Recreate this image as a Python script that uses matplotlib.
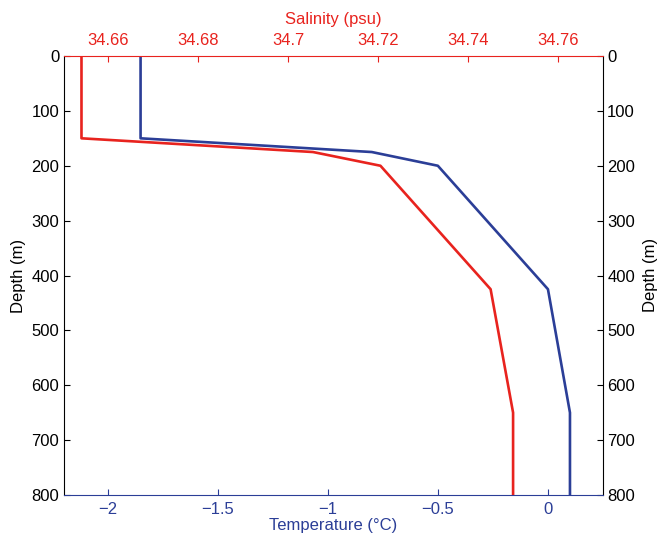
import matplotlib
matplotlib.use("Agg")
import matplotlib.pyplot as plt

plt.rcParams['font.family'] = ['Liberation Sans', 'DejaVu Sans']

depth = [0, 150, 175, 200, 425, 650, 800]
temperature = [-1.85, -1.85, -0.80, -0.50, 0.00, 0.10, 0.10]
salinity = [34.654, 34.654, 34.7055, 34.7205, 34.745, 34.750, 34.750]

temp_ticks = [-2, -1.5, -1, -0.5, 0]
temp_labels = ['\u22122', '\u22121.5', '\u22121', '\u22120.5', '0']
sal_ticks = [34.66, 34.68, 34.70, 34.72, 34.74, 34.76]
sal_labels = ['34.66', '34.68', '34.7', '34.72', '34.74', '34.76']
depth_ticks = [0, 100, 200, 300, 400, 500, 600, 700, 800]

BLUE = '#2B3E97'
RED = '#E8231E'
FS = 12

fig = plt.figure(figsize=(6.58, 5.35), dpi=100)
W, H = 658, 535
left, right, top, bottom = 63.5, 603, 56, 495
ax = fig.add_axes([left / W, (H - bottom) / H, (right - left) / W, (bottom - top) / H])

ax.plot(temperature, depth, color=BLUE, lw=1.9, zorder=3)
ax.set_xlim(-2.2, 0.25)
ax.set_ylim(800, 0)
ax.set_xticks(temp_ticks)
ax.set_xticklabels(temp_labels)
ax.set_yticks(depth_ticks)
ax.tick_params(axis='x', direction='in', colors=BLUE, labelsize=FS, length=4, top=True, labeltop=False, pad=5)
ax.tick_params(axis='y', direction='in', colors='black', labelsize=FS, length=4, left=True, right=True,
               labelright=True, pad=3)
ax.set_xlabel('Temperature (\u00b0C)', color=BLUE, fontsize=FS, labelpad=1)
ax.set_ylabel('Depth (m)', color='black', fontsize=FS, labelpad=4)
ax.spines['bottom'].set_color(BLUE)
ax.spines['left'].set_color('black')
ax.spines['right'].set_color('black')
ax.spines['top'].set_visible(False)

ax2 = ax.twiny()
ax2.plot(salinity, depth, color=RED, lw=1.9, zorder=3)
ax2.set_xlim(34.65, 34.77)
ax2.set_ylim(800, 0)
ax2.set_xticks(sal_ticks)
ax2.set_xticklabels(sal_labels)
ax2.tick_params(axis='x', direction='in', colors=RED, labelsize=FS, length=4, top=True, bottom=False, pad=6)
ax2.set_xlabel('Salinity (psu)', color=RED, fontsize=FS, labelpad=6)
ax2.spines['top'].set_color(RED)
for s in ['bottom', 'left', 'right']:
    ax2.spines[s].set_visible(False)

fig.text(650 / W, 1 - 275 / H, 'Depth (m)', rotation=90, ha='center', va='center', fontsize=FS)

fig.savefig('out.png', dpi=100)
